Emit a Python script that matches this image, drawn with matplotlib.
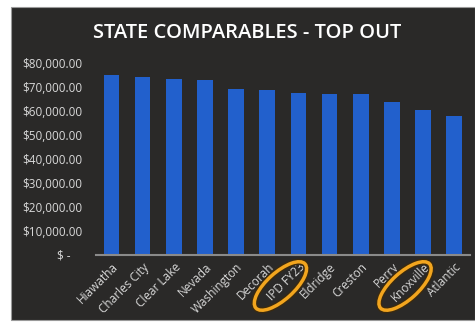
import numpy as np
import matplotlib.pyplot as plt
from matplotlib.patches import Ellipse, Rectangle
from matplotlib.transforms import ScaledTranslation
from matplotlib.ticker import FuncFormatter

cities = ['Hiawatha', 'Charles City', 'Clear Lake', 'Nevada', 'Washington',
          'Decorah', 'IPD FY23', 'Eldridge', 'Creston', 'Perry',
          'Knoxville', 'Atlantic']
top_out = [75000, 74200, 73300, 72900, 69200, 68750,
           67600, 67100, 67000, 63900, 60400, 57900]
circled = ['IPD FY23', 'Knoxville']

fig = plt.figure(figsize=(4.75, 3.24), dpi=100, facecolor='white')
# dark slide panel
fig.patches.append(Rectangle((11 / 475, 4 / 324), 464 / 475, 313 / 324,
                             transform=fig.transFigure, facecolor='#2a2928',
                             edgecolor='#9a9a9a', lw=0.8, zorder=-5))

ax = fig.add_axes([0.202, 0.213, 0.787, 0.593])
ax.set_facecolor('none')

x = np.arange(len(cities))
ax.bar(x, top_out, width=0.5, color='#2260cc', zorder=2)

ax.set_xlim(-0.5, len(cities) - 0.5)
ax.set_ylim(0, 80000)
ax.set_yticks(np.arange(0, 80001, 10000))


def money(v, pos):
    if v == 0:
        return '$ -    '
    return '${:,.2f}'.format(v)


ax.yaxis.set_major_formatter(FuncFormatter(money))
ax.set_xticks(x)
ax.set_xticklabels(cities, rotation=45, ha='right', rotation_mode='anchor',
                   fontsize=8.5, color='#d8d8d8', family='Open Sans')
for lab in ax.get_yticklabels():
    lab.set_fontsize(8.5)
    lab.set_color('#d8d8d8')
    lab.set_family('Open Sans')
ax.tick_params(length=0, pad=4)
ax.tick_params(axis='y', pad=10)

for s in ['top', 'right', 'left']:
    ax.spines[s].set_visible(False)
ax.spines['bottom'].set_color('#8a8a8a')
ax.spines['bottom'].set_linewidth(1.5)

fig.text(0.52, 0.897, 'STATE COMPARABLES - TOP OUT', ha='center', va='center',
         color='white', fontsize=14.5, fontweight='semibold', family='Open Sans')

# orange circles around two labels
for name in circled:
    i = cities.index(name)
    tr = fig.dpi_scale_trans + ScaledTranslation(i, 0, ax.get_xaxis_transform())
    for lw, col in [(4.5, '#3a2a10'), (2.5, '#f2a51e')]:
        e = Ellipse((-0.18, -0.31), 0.66, 0.27, angle=42, transform=tr,
                    fill=False, edgecolor=col, lw=lw, clip_on=False, zorder=5)
        fig.patches.append(e)

fig.savefig('out.png', dpi=100, facecolor='white')
